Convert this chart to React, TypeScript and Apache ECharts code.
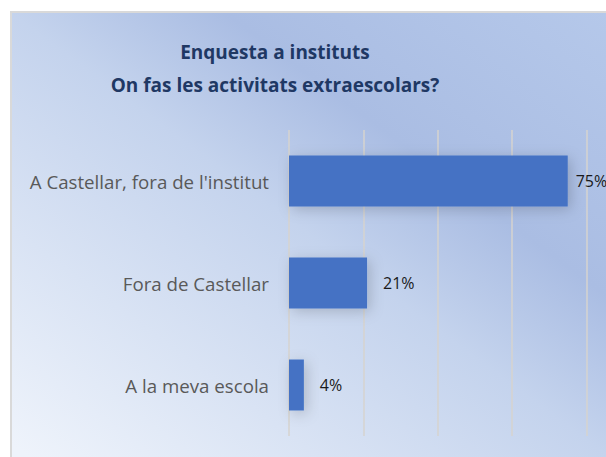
import React, { useEffect, useRef } from "react";
import * as echarts from "echarts";

const titleLines = ["Enquesta a instituts", "On fas les activitats extraescolars?"];
const categories = ["A Castellar, fora de l'institut", "Fora de Castellar", "A la meva escola"];
const values = [75, 21, 4];

export default function App() {
  const ref = useRef<HTMLDivElement>(null);
  useEffect(() => {
    document.body.style.margin = "0";
    const chart = echarts.init(ref.current!, null, { renderer: "svg" });
    chart.setOption({
      animation: false,
      backgroundColor: "#ffffff",
      graphic: [
        {
          type: "rect",
          z: -10,
          silent: true,
          shape: { x: 11, y: 12, width: 640, height: 470 },
          style: {
            fill: new echarts.graphic.LinearGradient(
              20,
              450,
              452,
              -133,
              [
                { offset: 0, color: "#eef3fb" },
                { offset: 0.476, color: "#c4d3ed" },
                { offset: 0.652, color: "#aabde3" },
                { offset: 0.967, color: "#b5c8ea" },
                { offset: 1, color: "#b8cbeb" },
              ],
              true
            ),
            stroke: "#d9d9d9",
            lineWidth: 2,
          },
        },
      ],
      title: {
        text: titleLines.join("\n"),
        left: 270,
        textAlign: "center",
        top: 30,
        textStyle: {
          fontFamily: "Open Sans",
          fontWeight: "bold",
          fontSize: 19,
          color: "#1f3864",
          lineHeight: 33,
        },
      },
      grid: { left: 289, top: 130, right: 0, height: 306, containLabel: false },
      xAxis: {
        type: "value",
        min: 0,
        max: 85.3,
        interval: 20,
        axisLabel: { show: false },
        axisLine: { show: false },
        axisTick: { show: false },
        splitLine: {
          show: true,
          showMaxLine: false,
          lineStyle: { color: "#d6d3cf", width: 1.5 },
        },
      },
      yAxis: {
        type: "category",
        inverse: true,
        data: categories,
        axisLine: { show: false },
        axisTick: { show: false },
        axisLabel: {
          margin: 20,
          fontFamily: "Open Sans",
          fontSize: 18.7,
          color: "#595959",
        },
      },
      series: [
        {
          type: "bar",
          data: values.map((v, i) => ({
            value: v,
            label: { distance: i === 0 ? 8 : 16 },
          })),
          barWidth: "50%",
          itemStyle: {
            color: "#4472c4",
            shadowBlur: 14,
            shadowColor: "rgba(0,0,0,0.18)",
            shadowOffsetX: 3,
            shadowOffsetY: 3,
          },
          label: {
            show: true,
            position: "right",
            formatter: "{c}%",
            fontFamily: "Open Sans",
            fontSize: 16,
            color: "#1a1a1a",
          },
        },
      ],
    });
    return () => chart.dispose();
  }, []);
  return <div ref={ref} style={{ width: 606, height: 457 }} />;
}
